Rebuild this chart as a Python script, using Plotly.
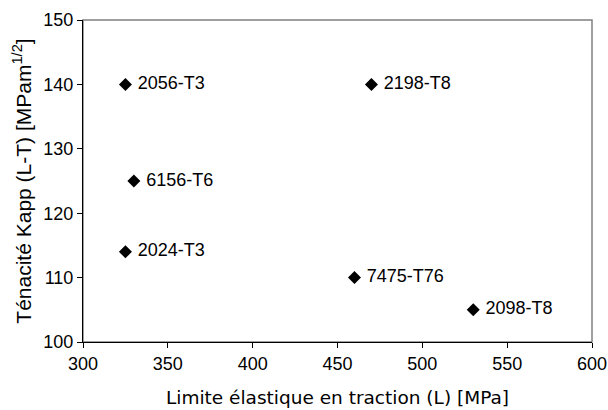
import plotly.graph_objects as go

alloys = ["2056-T3", "2198-T8", "6156-T6", "2024-T3", "7475-T76", "2098-T8"]
yield_strength = [325, 470, 330, 325, 460, 530]
toughness = [140, 140, 125, 114, 110, 105]

x_ticks = [300, 350, 400, 450, 500, 550, 600]
y_ticks = [100, 110, 120, 130, 140, 150]

ARIAL = "Liberation Sans, Arial, sans-serif"

fig = go.Figure()
fig.add_trace(go.Scatter(
    x=yield_strength, y=toughness, mode="markers+text",
    text=[" " + a for a in alloys], textposition="middle right",
    textfont=dict(family=ARIAL, size=18, color="black"),
    marker=dict(symbol="diamond", size=10, color="black"),
    showlegend=False, cliponaxis=False,
))

fig.add_shape(type="rect", xref="paper", yref="paper", x0=0, y0=0, x1=1, y1=1,
              line=dict(color="#808080", width=1.5), layer="below")

fig.update_layout(
    width=608, height=410,
    margin=dict(l=83, r=16, t=20, b=68),
    paper_bgcolor="white", plot_bgcolor="white",
    font=dict(family=ARIAL, size=18, color="black"),
    xaxis=dict(
        range=[300, 600], tickvals=x_ticks, ticktext=[str(v) for v in x_ticks],
        showgrid=False, zeroline=False, showline=True, linecolor="black", linewidth=1,
        ticks="outside", ticklen=5, tickcolor="black", automargin=False,
        tickfont=dict(family=ARIAL, size=18),
        title=dict(text="Limite élastique en traction (L) [MPa]",
                   font=dict(family="DejaVu Sans", size=18.5), standoff=18),
    ),
    yaxis=dict(
        range=[100, 150], tickvals=y_ticks, ticktext=[str(v) for v in y_ticks],
        showgrid=False, zeroline=False, showline=True, linecolor="black", linewidth=1,
        ticks="outside", ticklen=5, tickcolor="black", automargin=False,
        tickfont=dict(family=ARIAL, size=18),
        title=dict(text="Ténacité Kapp (L-T) [MPam<sup>1/2</sup>]",
                   font=dict(family=ARIAL, size=21), standoff=6),
    ),
)

fig.write_html("out.html", config={"displayModeBar": False},
               post_script="document.body.style.margin='0';")
